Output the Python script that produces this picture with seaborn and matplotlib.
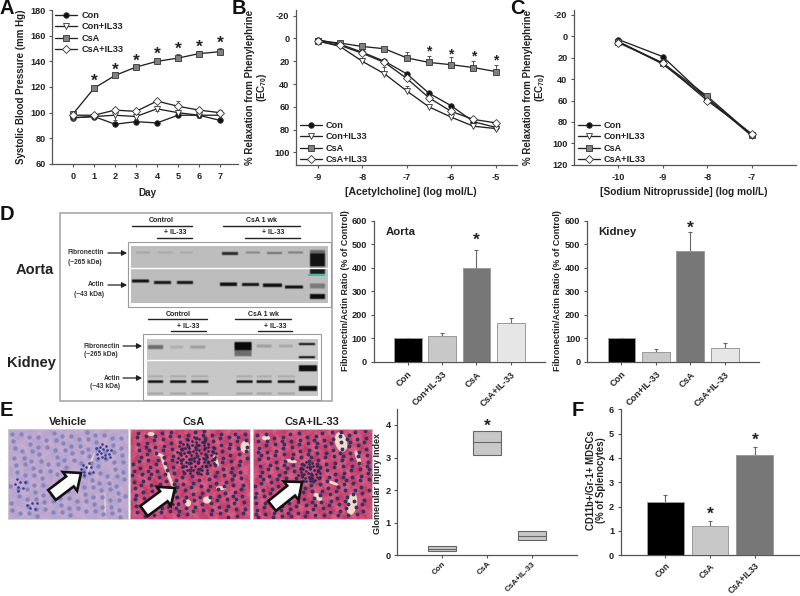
import numpy as np
import matplotlib
matplotlib.use("Agg")
import matplotlib.pyplot as plt
from matplotlib.patches import Rectangle, Ellipse, FancyArrowPatch
import seaborn as sns

# ---------- data ----------
series_names = ["Con", "Con+IL33", "CsA", "CsA+IL33"]

days = [0, 1, 2, 3, 4, 5, 6, 7]
bp_con = [96, 97, 91, 93, 92, 98, 98, 94]
bp_con_il = [96, 97, 98, 97, 103, 100, 98, 98]
bp_csa = [99, 119, 129, 135.5, 140, 142.5, 146, 147.5]
bp_csa_il = [98, 98, 102, 101, 109, 105, 102, 100]
bp_csa_err = [1, 1.5, 2, 2, 2, 3, 2, 3]
bp_csa_il_err = [2, 1, 2, 2, 2, 4, 2, 2]
bp_con_il_err = [1, 1, 4, 2, 2, 2, 2, 2]
bp_star_days = [1, 2, 3, 4, 5, 6, 7]
bp_star_y = [126, 135, 141.5, 147, 151, 153, 156]

ach_x = [-9, -8.5, -8, -7.5, -7, -6.5, -6, -5.5, -5]
ach_con = [1, 5, 12, 20, 31, 48, 59, 73, 78]
ach_con_il = [2, 7, 20, 31, 46, 60, 69, 77, 79]
ach_csa = [2, 4, 7, 9, 17, 21, 23, 25.5, 29]
ach_csa_il = [2.5, 6, 13, 21, 35, 52, 64, 71, 74]
ach_csa_err = [1, 1, 1, 1, 5, 6, 6.5, 6, 5.5]
ach_con_il_err = [0, 1, 3, 6, 4, 2, 1, 1, 1]
ach_star_x = [-6.5, -6, -5.5, -5]
ach_star_y = [9.6, 11.7, 13.7, 17]

snp_x = [-10, -9, -8, -7]
snp_con = [3, 19, 58, 92]
snp_con_il = [5, 26, 58, 93]
snp_csa = [5, 25, 56, 92]
snp_csa_il = [6, 25, 60, 91]

fn_cats = ["Con", "Con+IL-33", "CsA", "CsA+IL-33"]
aorta_vals = [100, 108, 397, 165]
aorta_errs = [0, 14, 80, 23]
kidney_vals = [100, 42, 470, 60]
kidney_errs = [0, 12, 83, 18]

gi_cats = ["Con", "CsA", "CsA+IL-33"]
gi_low = [0.13, 3.07, 0.46]
gi_med = [0.20, 3.47, 0.60]
gi_high = [0.28, 3.82, 0.74]

md_cats = ["Con", "CsA", "CsA+IL33"]
md_vals = [2.2, 1.2, 4.14]
md_errs = [0.28, 0.23, 0.33]

# ---------- style ----------
sns.set_style("white")
plt.rcParams.update({
    "font.family": ["Liberation Sans", "DejaVu Sans"],
    "font.weight": "bold",
    "axes.labelweight": "bold",
    "axes.unicode_minus": False,
    "font.size": 6.6,
    "mathtext.fontset": "custom",
    "mathtext.bf": "Liberation Sans:bold",
    "mathtext.rm": "Liberation Sans:bold",
    "text.color": "#222222",
    "axes.labelcolor": "#222222",
    "xtick.color": "#222222",
    "ytick.color": "#222222",
})
W, H = 800, 596
fig = plt.figure(figsize=(8, 5.96), dpi=100, facecolor="white")

# overlay in pixel units for the photographic panels
ax0 = fig.add_axes([0, 0, 1, 1], zorder=0)
ax0.set_axis_off()


def chart_axes(l, r, t, b):
    ax = fig.add_axes([l / W, 1 - b / H, (r - l) / W, (b - t) / H], zorder=2)
    ax.patch.set_alpha(0)
    sns.despine(ax=ax)
    for s in ("left", "bottom"):
        ax.spines[s].set_color("#555555")
        ax.spines[s].set_linewidth(0.9)
    ax.tick_params(axis="both", which="major", direction="out", length=2.2,
                   width=0.8, color="#555555", labelsize=6.6, pad=2.5,
                   left=True, bottom=True)
    ax.tick_params(axis="x", pad=3.6)
    return ax


def ylab(ax, text, px, py, box, **kw):
    l, r, t, b = box
    ax.set_ylabel(text, fontsize=kw.pop("fontsize", 6.8), linespacing=1.0,
                  va="center", ha="center", **kw)
    ax.yaxis.set_label_coords((px - l) / (r - l), (b - py) / (b - t))


def xlab(ax, text, px, py, box, size=7.1):
    l, r, t, b = box
    ax.set_xlabel(text, fontsize=size, va="center", ha="center")
    ax.xaxis.set_label_coords((px - l) / (r - l), (b - py) / (b - t))


markers = {"Con": ("o", "#111111"), "Con+IL33": ("v", "white"),
           "CsA": ("s", "#808080"), "CsA+IL33": ("D", "white")}
msize = {"Con": 4.0, "Con+IL33": 3.8, "CsA": 3.9, "CsA+IL33": 3.9}


def draw_lines(ax, x, series):
    for name, y in zip(series_names, series):
        m, fc = markers[name]
        sns.lineplot(x=x, y=y, ax=ax, color="#222222", linewidth=0.95, label=name,
                     errorbar=None, marker=m, markersize=msize[name],
                     markerfacecolor=fc, markeredgecolor="#333333",
                     markeredgewidth=0.6, zorder=4)


def place_legend(ax, px, py, font=6.6):
    ax.legend(loc="upper left", bbox_to_anchor=(px / W, 1 - py / H),
              bbox_transform=fig.transFigure, frameon=False, fontsize=font,
              handlelength=2.4, handletextpad=0.45, labelspacing=0.27,
              borderpad=0, borderaxespad=0)


def stars(ax, xs, ys, size=12.5):
    for x, y in zip(xs, ys):
        ax.annotate("*", (x, y), xytext=(0, -1.6), textcoords="offset points",
                    fontsize=size, ha="center", va="center",
                    fontweight="bold", color="#222222", zorder=6)


# ---------- A ----------
box = (52, 238, 10, 164)
ax = chart_axes(*box)
draw_lines(ax, days, [bp_con, bp_con_il, bp_csa, bp_csa_il])
ax.errorbar(days, bp_csa, yerr=[np.zeros(8), bp_csa_err], fmt="none", ecolor="#555555",
            elinewidth=0.7, capsize=1.5, capthick=0.7, zorder=3)
ax.errorbar(days, bp_csa_il, yerr=[np.zeros(8), bp_csa_il_err], fmt="none", ecolor="#555555",
            elinewidth=0.7, capsize=1.5, capthick=0.7, zorder=3)
ax.errorbar(days, bp_con_il, yerr=[bp_con_il_err, np.zeros(8)], fmt="none", ecolor="#555555",
            elinewidth=0.7, capsize=1.5, capthick=0.7, zorder=3)
stars(ax, bp_star_days, bp_star_y)
ax.set_xlim(-1, 7.86)
ax.set_ylim(60, 180)
ax.set_xticks(days)
ax.set_yticks(range(60, 181, 20))
ylab(ax, "Systolic Blood Pressure (mm Hg)", 21, 87, box, fontsize=7.0)
xlab(ax, "Day", 147, 193, box)
place_legend(ax, 55, 11)

# ---------- B ----------
box = (296, 517, 10, 165)
ax = chart_axes(*box)
draw_lines(ax, ach_x, [ach_con, ach_con_il, ach_csa, ach_csa_il])
ax.errorbar(ach_x, ach_csa, yerr=[ach_csa_err, np.zeros(9)], fmt="none", ecolor="#555555",
            elinewidth=0.7, capsize=1.5, capthick=0.7, zorder=3)
ax.errorbar(ach_x, ach_con_il, yerr=[ach_con_il_err, np.zeros(9)], fmt="none", ecolor="#555555",
            elinewidth=0.7, capsize=1.5, capthick=0.7, zorder=3)
stars(ax, ach_star_x, ach_star_y, size=10)
ax.set_xlim(-9.49, -4.52)
ax.set_ylim(111, -25)
ax.set_xticks([-9, -8, -7, -6, -5])
ax.set_yticks(range(-20, 101, 20))
ylab(ax, "% Relaxation from Phenylephrine\n(EC$_{70}$)", 257, 87, box, fontsize=7.0)
xlab(ax, "[Acetylcholine] (log mol/L)", 411, 192, box, size=7.6)
place_legend(ax, 300, 121)

# ---------- C ----------
box = (574, 796, 10, 164.7)
ax = chart_axes(*box)
draw_lines(ax, snp_x, [snp_con, snp_con_il, snp_csa, snp_csa_il])
ax.set_xlim(-11, -6)
ax.set_ylim(120, -24.6)
ax.set_xticks(snp_x)
ax.set_yticks(range(-20, 121, 20))
ylab(ax, "% Relaxation from Phenylephrine\n(EC$_{70}$)", 535, 87, box, fontsize=7.0)
xlab(ax, "[Sodium Nitroprusside] (log mol/L)", 684, 192, box, size=7.3)
place_legend(ax, 578, 121)


# ---------- bar helper ----------
def slant(ax, size=6.6):
    for lab in ax.get_xticklabels():
        lab.set_rotation(45)
        lab.set_ha("right")
        lab.set_rotation_mode("anchor")
        lab.set_fontsize(size)


def bar_panel(box, cats, vals, errs, colors, width, size=6.6):
    ax = chart_axes(*box)
    sns.barplot(x=cats, y=vals, hue=cats, palette=colors, legend=False, ax=ax,
                width=width, edgecolor="#9a9a9a", linewidth=0.7, saturation=1,
                errorbar=None, order=cats, hue_order=cats, zorder=3)
    ax.errorbar(range(len(cats)), vals, yerr=[np.zeros(len(cats)), errs], fmt="none",
                ecolor="#666666", elinewidth=0.8, capsize=1.6, capthick=0.8, zorder=2)
    ax.set_xlim(-1, len(cats))
    ax.set_xlabel("")
    slant(ax, size)
    return ax


fn_colors = ["#000000", "#c8c8c8", "#777777", "#e6e6e6"]
FN_LABEL = "Fibronectin/Actin Ratio (% of Control)"

box = (373.5, 545, 220.7, 361.7)
ax = bar_panel(box, fn_cats, aorta_vals, aorta_errs, fn_colors, 0.81)
ax.set_ylim(0, 600)
ylab(ax, FN_LABEL, 345, 291, box, fontsize=6.4)
ax.text(401, 232, "Aorta", transform=ax0.transData, fontsize=8.2, ha="center", va="center")
stars(ax, [2], [525])

box = (587, 759.3, 220.7, 361.7)
ax = bar_panel(box, fn_cats, kidney_vals, kidney_errs, fn_colors, 0.81)
ax.set_ylim(0, 600)
ylab(ax, FN_LABEL, 558, 291, box, fontsize=6.4)
ax.text(617, 232, "Kidney", transform=ax0.transData, fontsize=8.2, ha="center", va="center")
stars(ax, [2], [577])

# ---------- E box chart ----------
box = (397.3, 576.7, 408.6, 555.3)
ax = chart_axes(*box)
gi_x, gi_y = [], []
for c, lo, me, hi in zip(gi_cats, gi_low, gi_med, gi_high):
    gi_x += [c] * 5
    gi_y += [lo, lo, me, hi, hi]
sns.boxplot(x=gi_x, y=gi_y, order=gi_cats, ax=ax, width=0.61, color="#c8c8c8", saturation=1,
            linewidth=0.8, linecolor="#666666", showcaps=False, whis=0, fliersize=0)
ax.set_xlim(-1, 3)
ax.set_ylim(0, 4.5)
ax.set_yticks([0, 1, 2, 3, 4])
ax.tick_params(axis="x", pad=1.4)
slant(ax, 5.8)
ylab(ax, "Glomerular Injury Index", 377, 483, box, fontsize=6.5)
stars(ax, [1], [4.03])

# ---------- F ----------
box = (620.7, 799.5, 409.3, 555.3)
ax = bar_panel(box, md_cats, md_vals, md_errs, ["#000000", "#c8c8c8", "#777777"], 0.82, size=6.2)
ax.tick_params(axis="x", pad=2.2)
ax.set_ylim(0, 6)
ylab(ax, "CD11b+/Gr-1+ MDSCs\n(% of Splenocytes)", 595.5, 480, box, fontsize=6.9)
stars(ax, [1, 2], [1.77, 4.8])


# ---------- overlay: panel letters ----------
def T(x, y, s, size=5, ha="center", **kw):
    ax0.text(x, y, s, fontsize=size, ha=ha, va="center", **kw)


for s, x, y in [("A", 0, 9), ("B", 232, 9), ("C", 510, 9),
                ("D", 0, 214), ("E", 0, 410), ("F", 572, 410)]:
    T(x, y, s, size=14.5, ha="left", color="#111111")


# ---------- overlay: western blots ----------
def blot(x0, x1, y0, y1, base, split, bands):
    sc = 2
    nx, ny = int((x1 - x0) * sc), int((y1 - y0) * sc)
    dark = np.zeros((ny, nx))
    for bx0, bx1, yc, h, d in bands:
        ia, ib = int((bx0 - x0) * sc), int((bx1 - x0) * sc)
        ja, jb = int((yc - h / 2 - y0) * sc), int((yc + h / 2 - y0) * sc)
        dark[max(ja, 0):max(jb, ja + 1), max(ia, 0):ib] = d
    k = np.ones(3) / 3
    dark = np.apply_along_axis(lambda v: np.convolve(v, k, "same"), 0, dark)
    dark = np.apply_along_axis(lambda v: np.convolve(v, k, "same"), 1, dark)
    img = base * (1 - dark)
    ax0.imshow(img, extent=(x0, x1, y1, y0), cmap="gray", vmin=0, vmax=1,
               aspect="auto", interpolation="bilinear", zorder=1)
    ax0.plot([x0, x1], [split, split], color="white", lw=1.0, zorder=2)


aorta_bands = [
    (136, 150, 252.7, 2, .12), (158, 173, 252.7, 2, .10), (180, 193, 252.7, 2, .10),
    (222, 238, 253.5, 3, .78), (246, 260, 252.7, 2, .30), (267, 282, 253, 2, .40),
    (288, 303, 252.7, 2, .35), (310, 325, 252, 4, .45), (310, 325, 260, 13, .9),
    (132, 149, 281, 3, .92), (154, 171, 282.7, 3, .88), (177, 193, 282.7, 3, .88),
    (220, 237, 284.5, 3.5, .92), (242, 259, 284.7, 3, .88), (263, 282, 285.5, 3.5, .92),
    (285, 303, 287, 3, .92), (310, 325, 286, 5, .35), (310, 325, 296.5, 5, .92),
    (310, 325, 271, 6, .85),
]
blot(131, 328, 246, 303, 0.74, 268, aorta_bands)
ax0.add_patch(Rectangle((308, 274), 17, 2.4, fc="#4fb3b0", ec="none", zorder=3))

kidney_bands = [
    (148, 163, 347, 4, .45), (170, 183, 347, 3, .12), (190, 205, 347, 3, .20),
    (234, 251, 346, 8, .95), (234, 251, 353, 6, .45), (256, 271, 346, 3, .20),
    (278, 292, 346, 3, .15), (298, 314, 344, 2, .92), (298, 314, 357, 2, .92),
    (148, 163, 381.7, 2.5, .92), (170, 186, 381.7, 2.5, .92), (191, 208, 381.7, 2.5, .92),
    (236, 252, 381.7, 2.5, .92), (256, 271, 381.7, 2.5, .92), (277, 294, 381.7, 2.5, .92),
    (148, 163, 376, 2, .14), (170, 186, 376, 2, .14), (191, 208, 376, 2, .14),
    (236, 252, 376, 2, .14), (256, 271, 376, 2, .14), (277, 294, 376, 2, .14),
    (148, 163, 393, 2, .18), (170, 186, 393, 2, .18), (191, 208, 393, 2, .18),
    (236, 252, 393, 2, .18), (256, 271, 393, 2, .18), (277, 294, 393, 2, .18),
    (298, 316, 368, 6, .92), (298, 316, 388, 5, .92),
]
blot(146.7, 317, 339, 395.7, 0.78, 360, kidney_bands)

# frames
for (fx0, fy0, fx1, fy1, c, lw) in [(60, 213, 331.5, 401, "#a8a8a8", 1.2),
                                    (128, 241.7, 331, 307, "#9a9a9a", 0.8),
                                    (143, 334, 321, 400, "#9a9a9a", 0.8)]:
    ax0.add_patch(Rectangle((fx0, fy0), fx1 - fx0, fy1 - fy0, fc="none", ec=c, lw=lw, zorder=3))

for x, y, s in [(161, 220.7, "Control"), (175, 232.7, "+ IL-33"), (262, 220.7, "CsA 1 wk"),
                (273, 232.7, "+ IL-33"), (178, 314, "Control"), (188, 326, "+ IL-33"),
                (263, 314, "CsA 1 wk"), (275, 326, "+ IL-33")]:
    T(x, y, s, size=5.0)
for y, a, b in [(226, 131.7, 191.7), (238, 157, 192), (226, 223, 300), (238, 245, 300),
                (319, 148, 207), (331, 171, 206), (319, 235, 291), (331, 258, 292)]:
    ax0.plot([a, b], [y, y], color="#222222", lw=1.0, zorder=3)
for x, y, s in [(104, 253, "Fibronectin"), (102, 262, "(~265 kDa)"), (104, 285, "Actin"),
                (104, 294, "(~43 kDa)"), (120, 346, "Fibronectin"), (118, 355, "(~265 kDa)"),
                (120, 378, "Actin"), (120, 387, "(~43 kDa)")]:
    T(x, y, s, size=4.8, ha="right", color="#333333")
for x0, x1, y in [(108, 127, 253), (108, 127, 285), (123, 142, 346), (123, 142, 378)]:
    ax0.add_patch(FancyArrowPatch((x0, y), (x1, y), arrowstyle="-|>,head_length=3,head_width=1.6",
                                  mutation_scale=1, color="#222222", lw=0.9, shrinkA=0, shrinkB=0, zorder=3))
T(35, 270.5, "Aorta", size=10.5, color="#222222")
T(31, 363.5, "Kidney", size=10.5, color="#222222")


# ---------- overlay: histology ----------
def tissue(x0, x1, y0, y1, c1, c2, nuc, nuc_s, n, dense, clusters, lumens, phase):
    xx, yy = np.meshgrid(np.arange(120), np.arange(90))
    t = (np.sin(xx * .33 + 1.4 * np.sin(yy * .19) + phase) * np.cos(yy * .29 + 1.1 * np.sin(xx * .13))
         + .6 * np.sin(xx * .9 + 2 * np.cos(yy * .7)) * np.sin(yy * 1.1 + phase))
    c1, c2 = np.array(matplotlib.colors.to_rgb(c1)), np.array(matplotlib.colors.to_rgb(c2))
    img = c1 + (c2 - c1) * np.clip(t[..., None] * .4 + .5, 0, 1)
    ax0.imshow(img, extent=(x0, x1, y1, y0), aspect="auto", interpolation="bilinear", zorder=1)
    for cx, cy, rx, ry, ang in lumens:
        ax0.add_patch(Ellipse((cx, cy), rx * 2, ry * 2, angle=ang, fc="#f0dcc8", ec="none", zorder=2))
    idx = np.arange(1, n + 1)
    px = x0 + 2 + (x1 - x0 - 4) * np.mod(idx * .754877 + phase, 1)
    py = y0 + 2 + (y1 - y0 - 4) * np.mod(idx * .569840 + phase, 1)
    ax0.scatter(px, py, s=nuc_s, color=nuc, linewidths=0, zorder=3)
    for cx, cy, r, m in clusters:
        i = np.arange(1, m + 1)
        ax0.scatter(cx + r * np.sqrt(i / m) * np.cos(i * 2.39996),
                    cy + r * np.sqrt(i / m) * np.sin(i * 2.39996) * .9,
                    s=3.5, color=dense, linewidths=0, zorder=3)
    ax0.add_patch(Rectangle((x0, y0), x1 - x0, y1 - y0, fc="none", ec="#d0ccd4", lw=0.6, zorder=4))


tissue(8, 127.5, 429, 519, "#c9aed0", "#b3a2cf", "#8088bf", 10, 140, "#2f3c8f",
       [(103, 452, 9, 16), (86, 470, 8, 10), (20, 485, 7, 7), (32, 506, 6, 5)],
       [(91, 462, 0.8, 10, 20), (105, 505, 0.6, 13, 0)], 0.11)
tissue(130, 249.6, 429, 519, "#bf3a66", "#d8648a", "#3b3062", 8, 210, "#272450",
       [(196, 456, 21, 70), (170, 500, 10, 10)],
       [(168, 474, 1.6, 20, -22), (151, 434, 3.5, 2, 0), (245, 447, 4.5, 6, 0), (216, 461, 2, 6, -20),
        (221, 488, 5, 2, 0), (188, 503, 3, 3.5, 0), (207, 500, 4, 3.5, 0), (160, 455, 6, 1.5, 20)], 0.37)
tissue(252.5, 372, 429, 519, "#bf3a66", "#d8648a", "#3b3062", 8, 220, "#272450",
       [(310, 472, 12, 30)],
       [(341, 442, 6, 10, -15), (352, 504, 5, 11, 10), (291, 461, 6, 1.8, 10), (318, 497, 5, 3, 40),
        (266, 438, 4, 2.5, 0), (358, 458, 2, 8, -20), (333, 483, 6, 1.5, 20)], 0.73)

for (a, b) in [((52, 495), (81, 473)), ((144, 511), (175, 488)), ((272, 506), (302, 482))]:
    ax0.add_patch(FancyArrowPatch(a, b, arrowstyle="simple,head_length=10,head_width=17,tail_width=9",
                                  mutation_scale=1, fc="white", ec="#111111", lw=1.9,
                                  shrinkA=0, shrinkB=0, zorder=5, joinstyle="miter"))

for x, s in [(68, "Vehicle"), (194, "CsA"), (312, "CsA+IL-33")]:
    T(x, 422, s, size=8, color="#222222")

ax0.set_xlim(0, W)
ax0.set_ylim(H, 0)

fig.savefig("out.png", dpi=100, facecolor="white")
